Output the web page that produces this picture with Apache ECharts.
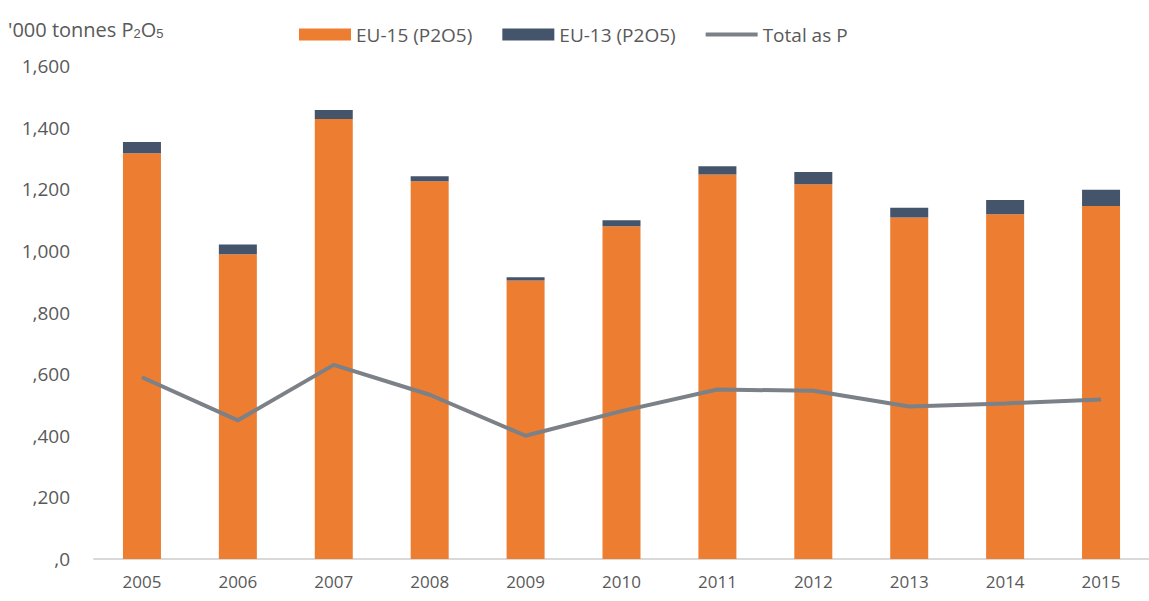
<!DOCTYPE html>
<html>
<head>
<meta charset="utf-8">
<script src="https://cdn.jsdelivr.net/npm/echarts@6/dist/echarts.min.js"></script>
<style>
  html, body { margin: 0; padding: 0; background: #fff; }
  #chart { width: 1149px; height: 601px; }
</style>
</head>
<body>
<div id="chart"></div>
<script>
// years on the x axis
const years = ["2005", "2006", "2007", "2008", "2009", "2010", "2011", "2012", "2013", "2014", "2015"];
// '000 tonnes P2O5
const eu15 = [1317, 989, 1428, 1226, 904, 1080, 1248, 1216, 1108, 1119, 1146];
const eu13 = [36, 32, 29, 16, 10, 19, 27, 40, 32, 46, 52];
// total as P
const totalP = [590, 450, 630, 533, 400, 480, 550, 546, 495, 505, 518];

const labelColor = "#595959";
const font = "'Open Sans', 'Noto Sans', sans-serif";

const chart = echarts.init(document.getElementById("chart"), null, { renderer: "svg" });

const option = {
  backgroundColor: "#fff",
  textStyle: { fontFamily: font, color: labelColor },
  grid: { left: 94, right: -6, top: 66, bottom: 42 },
  legend: {
    top: 20,
    left: 294,
    itemWidth: 52,
    itemHeight: 12,
    itemGap: 30,
    textStyle: { fontSize: 19, color: labelColor, fontFamily: font },
    data: [
      { name: "EU-15 (P2O5)", icon: "rect" },
      { name: "EU-13 (P2O5)", icon: "rect" },
      // plain line, no marker
      { name: "Total as P", icon: "path://M0,0 L52,0 L52,4 L0,4 Z" }
    ]
  },
  graphic: [
    {
      type: "text",
      left: 8,
      top: 19,
      style: {
        text: "'000 tonnes P{s|2}O{s|5}",
        fontSize: 20,
        fontFamily: font,
        fill: labelColor,
        rich: {
          s: { fontSize: 13, verticalAlign: "bottom", fill: labelColor, padding: [9, 0, 0, 0] }
        }
      }
    }
  ],
  xAxis: {
    type: "category",
    data: years,
    axisLine: { lineStyle: { color: "#d9d9d9", width: 2 } },
    axisTick: { show: false },
    axisLabel: { color: labelColor, fontSize: 17, margin: 14 }
  },
  yAxis: {
    type: "value",
    min: 0,
    max: 1600,
    interval: 200,
    splitLine: { show: false },
    axisLine: { show: false },
    axisTick: { show: false },
    axisLabel: {
      color: labelColor,
      fontSize: 19,
      margin: 24,
      formatter: function (v) {
        if (v < 1000) return "," + v;
        return v.toLocaleString("en-US");
      }
    }
  },
  series: [
    {
      name: "EU-15 (P2O5)",
      type: "bar",
      stack: "p2o5",
      barWidth: 38,
      itemStyle: { color: "#ed7d31" },
      data: eu15
    },
    {
      name: "EU-13 (P2O5)",
      type: "bar",
      stack: "p2o5",
      barWidth: 38,
      itemStyle: { color: "#44546a" },
      data: eu13
    },
    {
      name: "Total as P",
      type: "line",
      symbol: "none",
      lineStyle: { color: "#7c8087", width: 4 },
      itemStyle: { color: "#7c8087" },
      data: totalP
    }
  ]
};

chart.setOption(option);
</script>
</body>
</html>
